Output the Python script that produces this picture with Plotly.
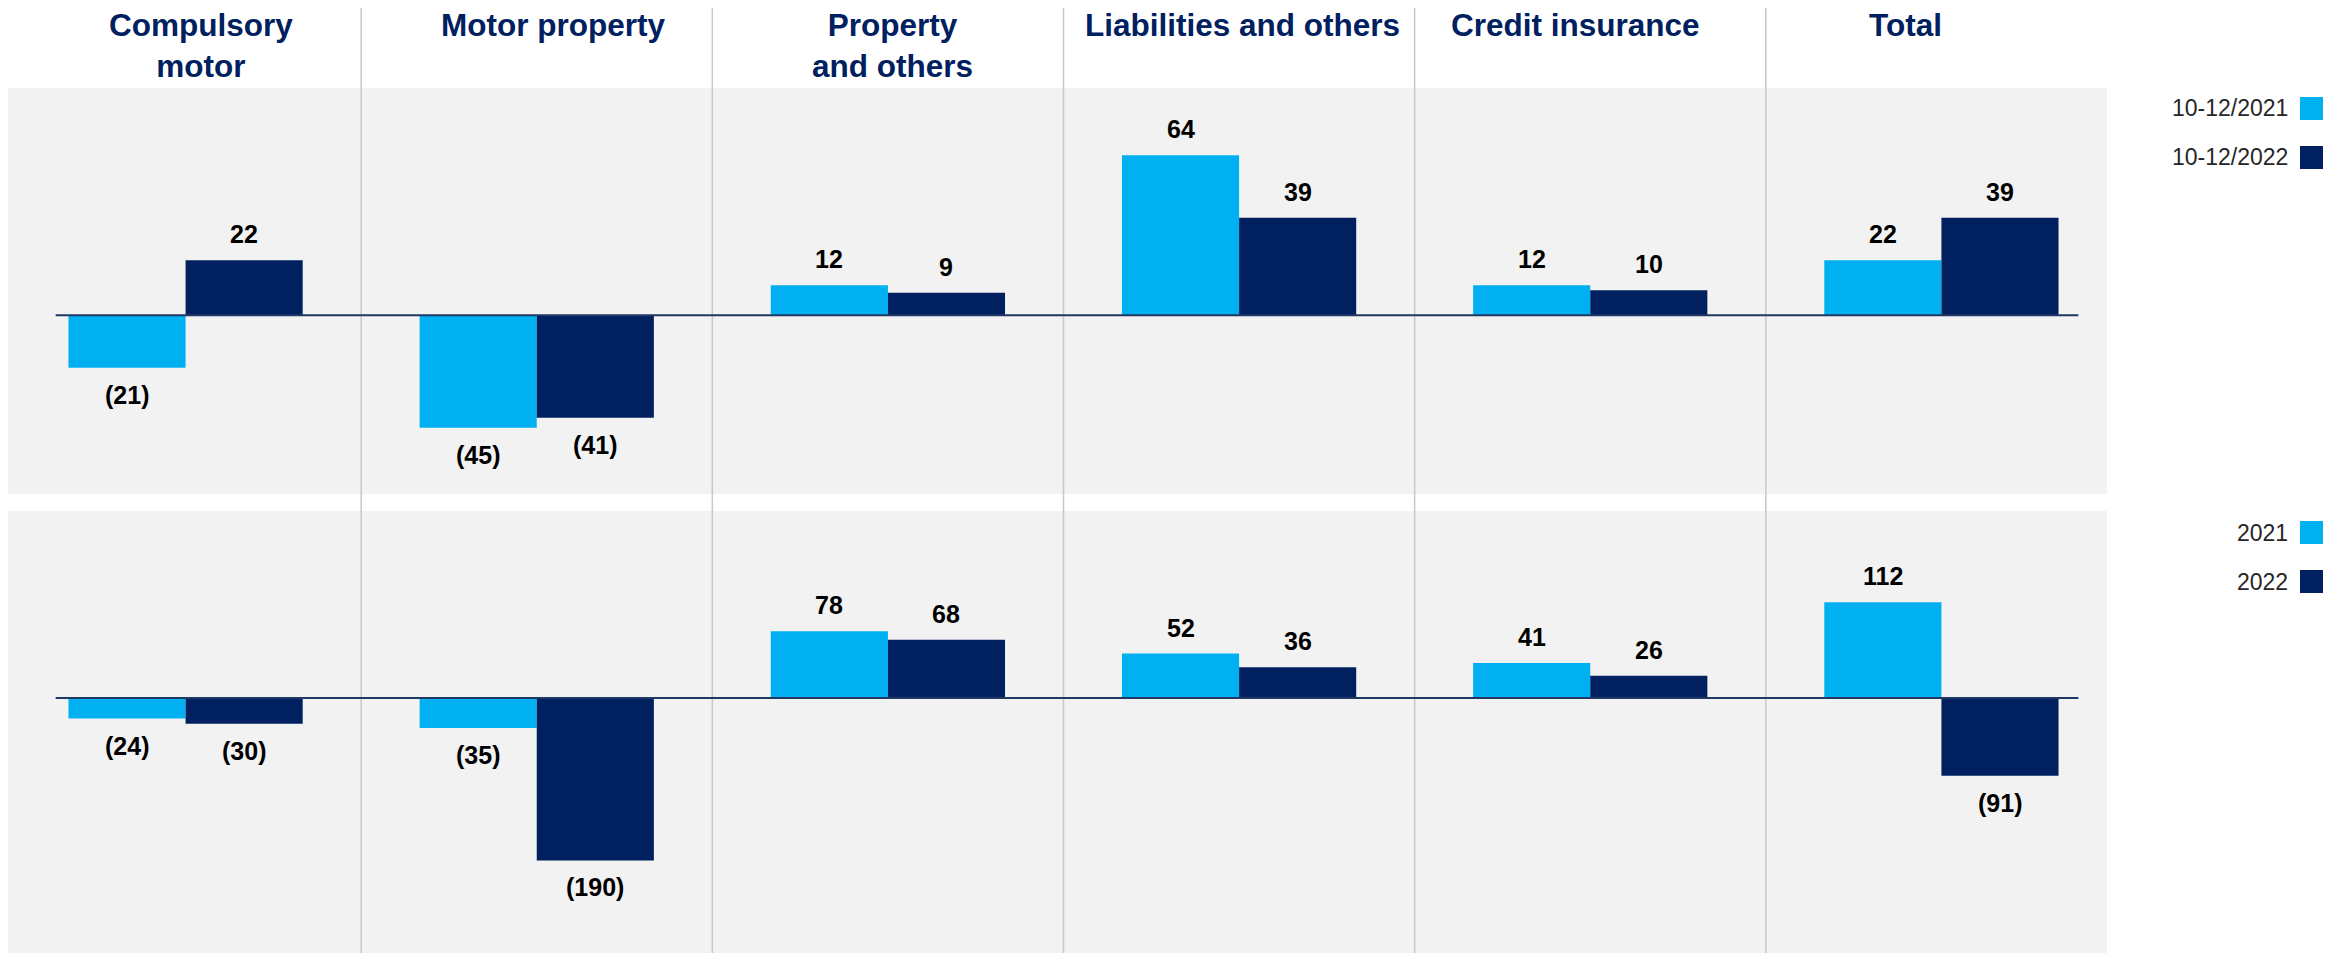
import plotly.graph_objects as go

# data
categories = ["Compulsory motor", "Motor property", "Property and others",
              "Liabilities and others", "Credit insurance", "Total"]
titles = ["Compulsory<br>motor", "Motor property", "Property<br>and others",
          "Liabilities and others", "Credit insurance", "Total"]
q4_names = ["10-12/2021", "10-12/2022"]
q4_2021 = [-21, -45, 12, 64, 12, 22]
q4_2022 = [22, -41, 9, 39, 10, 39]
fy_names = ["2021", "2022"]
fy_2021 = [-24, -35, 78, 52, 41, 112]
fy_2022 = [-30, -190, 68, 36, 26, -91]

LIGHT = "#00B0F0"
DARK = "#002060"
GREY = "#F2F2F2"
FONT = "Liberation Sans, Arial, sans-serif"

W, H = 2343, 953
OFF = 8  # page body margin


def px(x):
    # screen column -> paper x
    return (x - OFF) / W


def py(y):
    # screen row (from top) -> paper y
    return (H - (y - OFF)) / H


def fmt(v):
    return f"({abs(v)})" if v < 0 else str(v)


fig = go.Figure()

panels = [
    ("x", "y", q4_2021, q4_2022),
    ("x2", "y2", fy_2021, fy_2022),
]
for xa, ya, a, b in panels:
    fig.add_trace(go.Bar(x=categories, y=a, marker_color=LIGHT, marker_line_width=0,
                         offsetgroup="a", xaxis=xa, yaxis=ya, showlegend=False))
    fig.add_trace(go.Bar(x=categories, y=b, marker_color=DARK, marker_line_width=0,
                         offsetgroup="b", xaxis=xa, yaxis=ya, showlegend=False))

x_dom = [px(10), px(2117)]
top_dom = [py(494), py(88)]
bot_dom = [0, py(511)]

fig.update_layout(
    width=W, height=H,
    margin=dict(l=0, r=0, t=0, b=0),
    paper_bgcolor="white", plot_bgcolor="rgba(0,0,0,0)",
    barmode="group", bargap=0.333, bargroupgap=0,
    font=dict(family=FONT),
    xaxis=dict(domain=x_dom, anchor="y", visible=False, range=[-0.5, 5.5]),
    xaxis2=dict(domain=x_dom, anchor="y2", visible=False, range=[-0.5, 5.5]),
    yaxis=dict(domain=top_dom, anchor="x", visible=False, range=[-71.5, 90.9]),
    yaxis2=dict(domain=bot_dom, anchor="x2", visible=False, range=[-307.6, 218.7]),
    hovermode=False,
)

shapes = []
# grey panels
for d in (top_dom, bot_dom):
    shapes.append(dict(type="rect", xref="paper", yref="paper", x0=px(8), x1=px(2107),
                       y0=d[0], y1=d[1], fillcolor=GREY, line_width=0, layer="below"))
# column separators
for i in range(len(categories) - 1):
    shapes.append(dict(type="line", xref="x", yref="paper", x0=i + 0.5, x1=i + 0.5,
                       y0=0, y1=py(7), line=dict(color="#C8C8C8", width=1.5), layer="below"))
# zero lines
for xa, ya in (("x", "y"), ("x2", "y2")):
    shapes.append(dict(type="line", xref=xa, yref=ya, x0=-0.37, x1=5.39, y0=0, y1=0,
                       line=dict(color="#1F3864", width=2)))

annotations = []
# column titles
title_shift = [15, 16, 5, 3, -15, -36]
for i, t in enumerate(titles):
    annotations.append(dict(text=t, x=i, xref="x", y=py(5), yref="paper",
                            xanchor="center", yanchor="top", xshift=title_shift[i],
                            showarrow=False, align="center",
                            font=dict(family=FONT, size=31.5, color=DARK, weight="bold")))
# value labels
for xa, ya, a, b in panels:
    for vals, off in ((a, -0.1665), (b, 0.1665)):
        for i, v in enumerate(vals):
            annotations.append(dict(text=fmt(v), x=i + off, xref=xa, y=v, yref=ya,
                                    yanchor="middle", yshift=26 if v >= 0 else -27,
                                    showarrow=False,
                                    font=dict(family=FONT, size=25, color="black", weight="bold")))

# legends (text left of square)
legend_rows = [(q4_names, [108.5, 157.5]), (fy_names, [532.5, 581.5])]
for names, ys in legend_rows:
    for name, col, yc in zip(names, (LIGHT, DARK), ys):
        annotations.append(dict(text=name, x=px(2290), xref="paper", y=py(yc), yref="paper",
                                xanchor="right", yanchor="middle", showarrow=False,
                                font=dict(family=FONT, size=23, color="#262626")))
        shapes.append(dict(type="rect", xref="paper", yref="paper",
                           x0=px(2300), x1=px(2323), y0=py(yc + 11.5), y1=py(yc - 11.5),
                           fillcolor=col, line_width=0))

fig.update_layout(shapes=shapes, annotations=annotations)

fig.write_html("out.html")
